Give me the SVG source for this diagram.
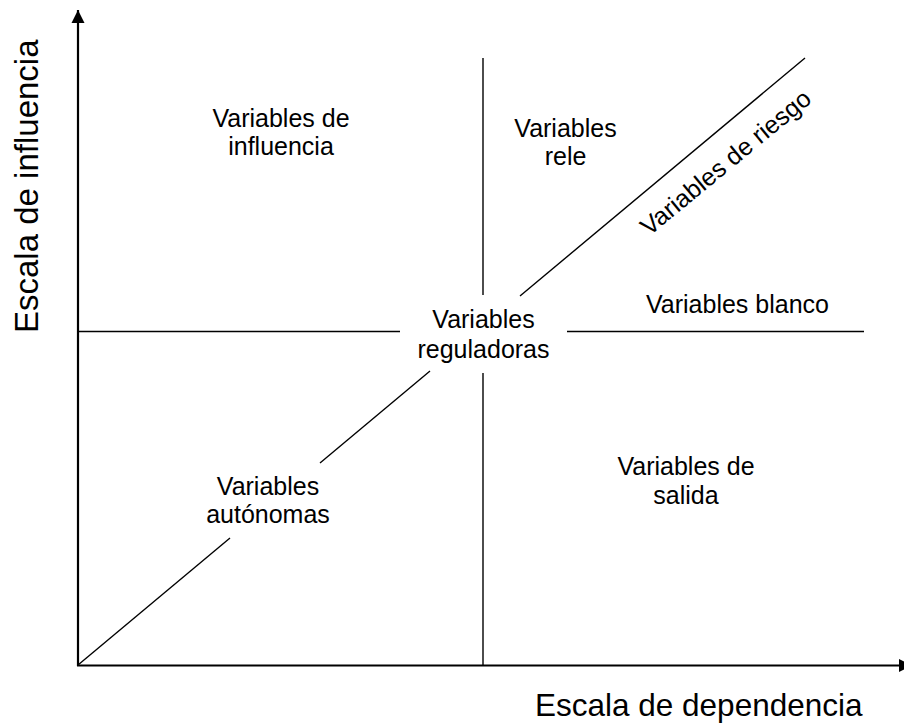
<svg xmlns="http://www.w3.org/2000/svg" width="904" height="723" viewBox="0 0 904 723">
<style>
.t{font-family:"Liberation Sans",Arial,sans-serif;font-size:25px;fill:#000;text-anchor:middle}
.ax{font-family:"Liberation Sans",Arial,sans-serif;fill:#000}
.l{stroke:#000;stroke-width:1.4;fill:none}
.a{stroke:#000;stroke-width:2.2;fill:none}
</style>
<defs>
<marker id="arr" markerWidth="14" markerHeight="14" refX="13" refY="7" orient="auto" markerUnits="userSpaceOnUse">
<path d="M0,0.5 L13,7 L0,13.5 Z" fill="#000"/>
</marker>
</defs>
<rect width="904" height="723" fill="#fff"/>
<g id="connectors">
<line class="a" x1="78" y1="666" x2="78" y2="10" marker-end="url(#arr)"/>
<line class="a" x1="77" y1="665.5" x2="912" y2="665.5" marker-end="url(#arr)"/>
<line class="l" x1="483" y1="58" x2="483" y2="295"/>
<line class="l" x1="483" y1="373" x2="483" y2="665"/>
<line class="l" x1="78" y1="331.5" x2="400" y2="331.5"/>
<line class="l" x1="567" y1="331.5" x2="864" y2="331.5"/>
<line class="l" x1="78" y1="665" x2="230" y2="538"/>
<line class="l" x1="320" y1="463" x2="430" y2="371"/>
<line class="l" x1="520" y1="296" x2="805" y2="58"/>
</g>
<g id="axis-y"><text class="ax" font-size="33" transform="translate(38,333) rotate(-90)">Escala de influencia</text></g>
<g id="axis-x"><text class="ax" font-size="31.5" x="535" y="716">Escala de dependencia</text></g>
<g id="influencia"><text class="t" x="281" y="127">Variables de</text><text class="t" x="281" y="155">influencia</text></g>
<g id="rele"><text class="t" x="565.5" y="137">Variables</text><text class="t" x="565.5" y="165">rele</text></g>
<g id="riesgo"><text class="t" transform="translate(731,169) rotate(-39.5)">Variables de riesgo</text></g>
<g id="blanco"><text class="t" x="737.5" y="313">Variables blanco</text></g>
<g id="reguladoras"><text class="t" x="483.5" y="328">Variables</text><text class="t" x="483.5" y="358">reguladoras</text></g>
<g id="salida"><text class="t" x="686" y="475">Variables de</text><text class="t" x="686" y="504">salida</text></g>
<g id="autonomas"><text class="t" x="268" y="495">Variables</text><text class="t" x="268" y="523">autónomas</text></g>
</svg>
